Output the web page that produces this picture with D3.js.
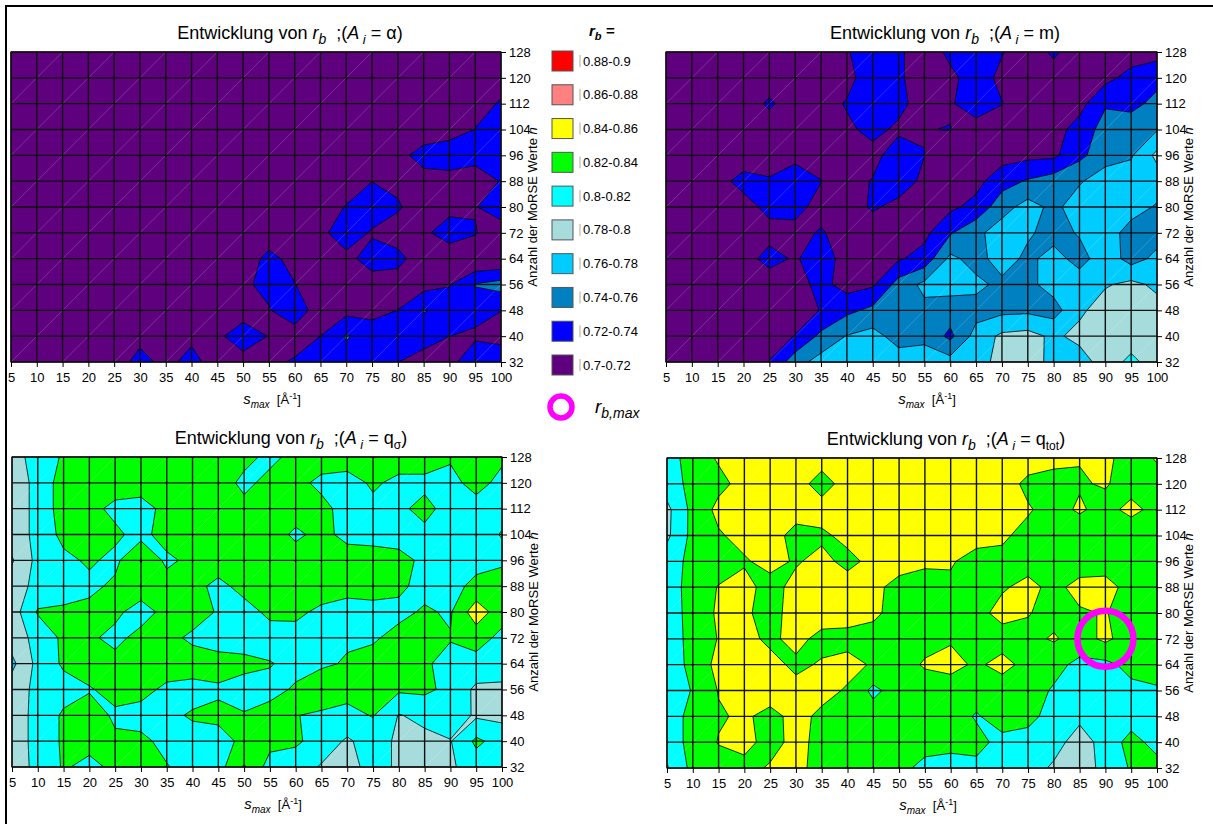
<!DOCTYPE html>
<html>
<head>
<meta charset="utf-8">
<script src="https://cdn.jsdelivr.net/npm/d3@7"></script>
<style>
  body { margin: 0; background: #fff; }
  svg { display: block; font-family: "Liberation Sans", Arial, sans-serif; }
</style>
</head>
<body>
<svg id="chart" width="1213" height="824"></svg>
<script>
// sampling grid of every surface
const smax = [5, 10, 15, 20, 25, 30, 35, 40, 45, 50, 55, 60, 65, 70, 75, 80, 85, 90, 95, 100];
const nvals = [32, 40, 48, 56, 64, 72, 80, 88, 96, 104, 112, 120, 128];

const thresholds = [0.70, 0.72, 0.74, 0.76, 0.78, 0.80, 0.82, 0.84, 0.86, 0.88];
const bandLabels = ['0.7-0.72', '0.72-0.74', '0.74-0.76', '0.76-0.78', '0.78-0.8',
                    '0.8-0.82', '0.82-0.84', '0.84-0.86', '0.86-0.88', '0.88-0.9'];
const bandColors = ['#5f007f', '#0000ff', '#0080c0', '#00ccff', '#a6dcdc',
                    '#00ffff', '#00ff00', '#ffff00', '#ff8080', '#ff0000'];

// r_b values, one row per n, from n = 128 (top) down to n = 32
const rbAlpha = [
  [.71,.71,.71,.71,.71,.71,.71,.71,.71,.71,.71,.71,.71,.71,.71,.71,.71,.71,.71,.71],
  [.71,.71,.71,.71,.71,.71,.71,.71,.71,.71,.71,.71,.71,.71,.71,.71,.71,.71,.71,.712],
  [.71,.71,.71,.71,.71,.71,.71,.71,.71,.71,.71,.71,.71,.71,.71,.71,.71,.71,.712,.722],
  [.71,.71,.71,.71,.71,.71,.71,.71,.71,.71,.71,.71,.71,.71,.71,.71,.705,.705,.7205,.73],
  [.71,.71,.71,.71,.71,.71,.71,.71,.71,.71,.71,.71,.71,.71,.71,.712,.73,.741,.73,.726],
  [.71,.71,.71,.71,.71,.71,.71,.71,.71,.71,.71,.71,.71,.71,.7195,.716,.71,.705,.705,.7215],
  [.71,.71,.71,.71,.71,.71,.71,.71,.71,.71,.71,.71,.71,.721,.741,.722,.71,.714,.718,.74],
  [.71,.71,.71,.71,.71,.71,.71,.71,.71,.71,.71,.71,.711,.741,.716,.712,.716,.73,.722,.70],
  [.71,.71,.71,.71,.71,.71,.71,.71,.71,.71,.725,.7144,.71,.71,.735,.725,.71,.7056,.70,.70],
  [.71,.71,.71,.71,.71,.71,.71,.71,.71,.715,.728,.7205,.71,.719,.704,.712,.712,.719,.741,.748],
  [.71,.71,.71,.71,.71,.71,.71,.71,.71,.714,.718,.741,.7015,.714,.714,.7202,.742,.73,.73,.7202],
  [.71,.71,.71,.71,.71,.7135,.7202,.715,.7174,.727,.7195,.703,.7202,.742,.73,.73,.725,.7202,.715,.715],
  [.71,.71,.71,.71,.708,.728,.713,.728,.708,.715,.712,.724,.732,.732,.725,.7202,.715,.71,.742,.73]
];

const rbMass = [
  [.71,.71,.71,.71,.71,.71,.71,.718,.735,.723,.71,.724,.735,.721,.71,.723,.71,.71,.71,.712],
  [.71,.71,.71,.71,.71,.71,.71,.712,.735,.723,.71,.716,.728,.716,.71,.712,.71,.714,.727,.735],
  [.71,.71,.71,.71,.723,.71,.71,.722,.732,.726,.71,.718,.73,.7205,.71,.71,.713,.738,.735,.745],
  [.71,.71,.71,.71,.71,.71,.71,.716,.726,.716,.7195,.7205,.712,.71,.71,.712,.728,.748,.75,.759],
  [.71,.71,.71,.71,.71,.714,.712,.71,.713,.732,.7202,.71,.71,.712,.715,.716,.735,.752,.758,.785],
  [.71,.71,.714,.726,.722,.732,.7205,.712,.7212,.729,.716,.71,.714,.732,.742,.75,.758,.77,.77,.77],
  [.71,.712,.7205,.713,.725,.727,.712,.712,.7222,.715,.713,.716,.726,.752,.768,.755,.77,.772,.768,.758],
  [.71,.71,.71,.712,.714,.713,.7222,.71,.71,.712,.715,.738,.755,.77,.763,.752,.762,.77,.752,.752],
  [.71,.71,.71,.713,.726,.718,.73,.712,.714,.718,.727,.765,.752,.77,.755,.768,.752,.772,.752,.765],
  [.71,.71,.71,.71,.71,.712,.726,.712,.717,.748,.765,.768,.765,.755,.755,.768,.772,.778,.785,.776],
  [.71,.71,.71,.71,.71,.714,.7205,.735,.745,.752,.755,.75,.752,.755,.756,.752,.776,.79,.792,.787],
  [.71,.71,.71,.71,.713,.7205,.745,.761,.767,.752,.755,.735,.768,.784,.787,.776,.786,.79,.79,.789],
  [.71,.71,.71,.71,.7205,.752,.768,.772,.772,.77,.77,.768,.774,.785,.788,.775,.77,.79,.805,.79]
];

const rbQsigma = [
  [.79,.81,.822,.83,.83,.83,.83,.83,.83,.826,.815,.826,.83,.83,.83,.83,.83,.822,.83,.823],
  [.79,.805,.83,.83,.83,.83,.83,.83,.83,.815,.826,.826,.815,.812,.823,.815,.815,.815,.826,.815],
  [.79,.805,.83,.826,.815,.812,.826,.83,.83,.826,.823,.83,.826,.812,.815,.816,.826,.812,.813,.815],
  [.79,.805,.826,.83,.824,.813,.83,.83,.83,.823,.83,.816,.826,.814,.812,.812,.815,.81,.813,.821],
  [.778,.806,.815,.823,.815,.841,.815,.826,.83,.83,.83,.83,.83,.83,.83,.826,.816,.812,.815,.815],
  [.79,.806,.812,.815,.824,.83,.83,.826,.815,.826,.83,.83,.83,.826,.826,.823,.815,.815,.824,.834],
  [.79,.822,.823,.826,.824,.812,.826,.83,.818,.813,.824,.824,.816,.813,.815,.816,.822,.818,.852,.828],
  [.79,.806,.824,.823,.815,.826,.826,.816,.813,.813,.812,.813,.815,.816,.818,.825,.826,.821,.828,.815],
  [.775,.806,.823,.826,.826,.83,.83,.83,.826,.824,.821,.815,.815,.823,.826,.824,.822,.815,.813,.812],
  [.79,.805,.812,.819,.824,.826,.816,.813,.818,.814,.815,.822,.841,.826,.826,.823,.824,.815,.796,.795],
  [.79,.806,.823,.826,.818,.813,.816,.822,.823,.821,.826,.821,.815,.815,.821,.799,.805,.812,.797,.795],
  [.79,.806,.823,.826,.822,.824,.815,.813,.815,.823,.826,.823,.812,.797,.81,.796,.795,.799,.824,.812],
  [.79,.805,.822,.815,.824,.826,.821,.813,.812,.842,.812,.81,.798,.795,.805,.798,.796,.797,.81,.812]
];

const rbQtot = [
  [.81,.83,.842,.85,.846,.85,.85,.85,.85,.85,.85,.85,.85,.843,.85,.846,.841,.845,.83,.842],
  [.81,.826,.835,.846,.85,.85,.83,.85,.85,.85,.85,.85,.845,.85,.835,.832,.838,.842,.83,.832],
  [.795,.826,.845,.85,.85,.85,.85,.85,.85,.85,.85,.85,.85,.85,.842,.832,.843,.832,.847,.832],
  [.796,.826,.838,.846,.85,.832,.836,.846,.85,.85,.85,.85,.848,.843,.834,.835,.825,.83,.823,.83],
  [.81,.826,.83,.838,.846,.838,.846,.834,.846,.85,.846,.842,.832,.835,.833,.832,.83,.832,.823,.83],
  [.81,.828,.841,.846,.833,.846,.85,.85,.846,.832,.825,.836,.836,.838,.845,.835,.846,.846,.834,.83],
  [.81,.827,.843,.843,.833,.848,.85,.848,.843,.834,.834,.832,.834,.846,.841,.834,.838,.841,.832,.83],
  [.81,.826,.841,.846,.836,.846,.834,.834,.834,.836,.834,.838,.833,.832,.835,.842,.832,.844,.83,.822],
  [.808,.826,.846,.85,.846,.836,.842,.846,.838,.832,.842,.846,.837,.846,.834,.826,.815,.815,.826,.828],
  [.81,.821,.841,.848,.85,.846,.846,.838,.815,.83,.83,.83,.83,.83,.828,.818,.813,.815,.815,.818],
  [.81,.826,.838,.843,.834,.846,.836,.83,.83,.83,.83,.83,.818,.83,.826,.812,.806,.815,.812,.812],
  [.81,.826,.841,.846,.833,.846,.834,.83,.83,.83,.828,.826,.826,.814,.812,.81,.788,.81,.826,.814],
  [.798,.826,.832,.834,.842,.846,.832,.83,.83,.826,.814,.812,.815,.812,.812,.796,.79,.806,.822,.826]
];

// best combination, marked with the magenta ring
const rbMax = {s: 90, n: 72};

const svg = d3.select('#chart');

// writes a list of text pieces, with italics and sub/superscripts
function richText(text, parts, size) {
    let shift = 0;
    parts.forEach(function(p) {
        const target = p.sub ? size * 0.28 : p.sup ? -size * 0.4 : 0;
        text.append('tspan')
            .attr('dy', target - shift)
            .attr('font-size', p.size || (p.sub || p.sup ? Math.round(size * 0.72) : size))
            .attr('font-style', p.i ? 'italic' : null)
            .attr('font-weight', p.b ? 'bold' : null)
            .text(p.t);
        shift = target;
    });
}

function panel(cfg) {
    const x = d3.scaleLinear().domain([smax[0], smax[smax.length - 1]]).range([cfg.x0, cfg.x1]);
    const y = d3.scaleLinear().domain([nvals[0], nvals[nvals.length - 1]]).range([cfg.y1, cfg.y0]);
    const g = svg.append('g');

    g.append('clipPath').attr('id', 'clip-' + cfg.key)
        .append('rect')
        .attr('x', cfg.x0).attr('y', cfg.y0)
        .attr('width', cfg.x1 - cfg.x0).attr('height', cfg.y1 - cfg.y0);

    // d3.contours wants row 0 = smallest n
    const flat = [];
    cfg.rows.slice().reverse().forEach(function(r) { flat.push.apply(flat, r); });

    const ds = smax[1] - smax[0], dn = nvals[1] - nvals[0];
    const path = d3.geoPath(d3.geoTransform({
        point: function(px, py) {
            this.stream.point(x(smax[0] + (px - 0.5) * ds), y(nvals[0] + (py - 0.5) * dn));
        }
    }));

    const bands = d3.contours()
        .size([smax.length, nvals.length])
        .thresholds(thresholds)(flat);

    const plot = g.append('g').attr('clip-path', 'url(#clip-' + cfg.key + ')');
    plot.selectAll('path.band')
        .data(bands)
        .join('path')
        .attr('class', 'band')
        .attr('d', path)
        .attr('fill', function(d, i) { return bandColors[i]; })
        .attr('fill-rule', 'evenodd')
        .attr('stroke', '#000')
        .attr('stroke-width', 0.8)
        .attr('stroke-linejoin', 'round');

    // faint triangle seams of the surface cells (every second diagonal shows)
    const cells = [];
    for (let i = 0; i < smax.length - 1; i++)
        for (let j = 0; j < nvals.length - 1; j++)
            if ((i - j) % 2 === 0) cells.push([i, j]);
    plot.selectAll('line.seam')
        .data(cells)
        .join('line')
        .attr('class', 'seam')
        .attr('x1', function(d) { return x(smax[d[0]]); })
        .attr('y1', function(d) { return y(nvals[d[1]]); })
        .attr('x2', function(d) { return x(smax[d[0] + 1]); })
        .attr('y2', function(d) { return y(nvals[d[1] + 1]); })
        .attr('stroke', '#fff')
        .attr('stroke-opacity', 0.3)
        .attr('stroke-width', 0.6);

    // grid
    g.selectAll('line.gx').data(smax).join('line')
        .attr('x1', d => x(d)).attr('x2', d => x(d))
        .attr('y1', cfg.y0).attr('y2', cfg.y1)
        .attr('stroke', '#111').attr('stroke-width', 1.4);
    g.selectAll('line.gy').data(nvals).join('line')
        .attr('y1', d => y(d)).attr('y2', d => y(d))
        .attr('x1', cfg.x0).attr('x2', cfg.x1)
        .attr('stroke', '#111').attr('stroke-width', 1.4);
    g.append('rect')
        .attr('x', cfg.x0).attr('y', cfg.y0)
        .attr('width', cfg.x1 - cfg.x0).attr('height', cfg.y1 - cfg.y0)
        .attr('fill', 'none').attr('stroke', '#111').attr('stroke-width', 1.2);

    // axes
    g.append('g')
        .attr('transform', 'translate(0,' + cfg.y1 + ')')
        .call(d3.axisBottom(x).tickValues(smax).tickSize(5).tickPadding(6).tickFormat(d3.format('d')))
        .attr('font-size', 13).attr('font-family', null)
        .call(a => a.select('.domain').remove());
    g.append('g')
        .attr('transform', 'translate(' + cfg.x1 + ',0)')
        .call(d3.axisRight(y).tickValues(nvals).tickSize(5).tickPadding(3).tickFormat(d3.format('d')))
        .attr('font-size', 13).attr('font-family', null)
        .call(a => a.select('.domain').remove());

    // titles
    const title = g.append('text')
        .attr('x', cfg.x0 + 279).attr('y', cfg.y0 - 13)
        .attr('text-anchor', 'middle')
        .style('white-space', 'pre');
    richText(title, [
        {t: 'Entwicklung von '}, {t: 'r', i: 1}, {t: 'b', i: 1, sub: 1, size: 14},
        {t: '  ;('}, {t: 'A', i: 1}, {t: ' i', i: 1, sub: 1, size: 13}, {t: ' = '}
    ].concat(cfg.subject, [{t: ')'}]), 18);

    const xt = g.append('text')
        .attr('x', cfg.x0 + 261).attr('y', cfg.y1 + 42)
        .attr('text-anchor', 'middle')
        .style('white-space', 'pre');
    richText(xt, [{t: 's', i: 1, size: 15}, {t: 'max', i: 1, sub: 1, size: 10},
                  {t: '  [Å'}, {t: '-1', sup: 1, size: 9}, {t: ']'}], 13);

    const yt = g.append('text')
        .attr('transform', 'translate(' + (cfg.x1 + 36) + ',' + ((cfg.y0 + cfg.y1) / 2) + ') rotate(-90)')
        .attr('text-anchor', 'middle')
        .attr('dy', '0.35em')
        .style('white-space', 'pre');
    richText(yt, [{t: 'Anzahl der MoRSE Werte '}, {t: 'n', i: 1}], 13);

    return {x: x, y: y};
}

const panels = [
    {key: 'alpha', rows: rbAlpha, x0: 11, x1: 501, y0: 52, y1: 362, subject: [{t: 'α'}]},
    {key: 'm', rows: rbMass, x0: 666, x1: 1157, y0: 52, y1: 362, subject: [{t: 'm'}]},
    {key: 'qs', rows: rbQsigma, x0: 12, x1: 502, y0: 457, y1: 767,
     subject: [{t: 'q'}, {t: 'σ', sub: 1, size: 12}]},
    {key: 'qt', rows: rbQtot, x0: 667, x1: 1157, y0: 458, y1: 768,
     subject: [{t: 'q'}, {t: 'tot', sub: 1, size: 12}]}
];

const scales = panels.map(panel);

// ring on the q_tot surface
const qt = scales[3];
svg.append('circle')
    .attr('cx', qt.x(rbMax.s)).attr('cy', qt.y(rbMax.n))
    .attr('r', 28)
    .attr('fill', 'none').attr('stroke', '#ff00ff').attr('stroke-width', 6.5);

// legend, highest band on top
const legend = svg.append('g');
const lt = legend.append('text').attr('x', 589).attr('y', 36).style('white-space', 'pre');
richText(lt, [{t: 'r', i: 1, b: 1}, {t: 'b', i: 1, b: 1, sub: 1}, {t: ' =', b: 1, i: 1}], 15);

const order = d3.range(bandLabels.length).reverse();
const ly = d3.scalePoint().domain(order).range([61, 365]);
const item = legend.selectAll('g.item').data(order).join('g')
    .attr('class', 'item')
    .attr('transform', d => 'translate(0,' + ly(d) + ')');
item.append('rect')
    .attr('x', 552).attr('y', -10).attr('width', 21).attr('height', 20)
    .attr('fill', d => bandColors[d]).attr('stroke', '#555').attr('stroke-width', 1);
item.append('line')
    .attr('x1', 580).attr('x2', 580).attr('y1', -6).attr('y2', 6)
    .attr('stroke', '#aaa').attr('stroke-width', 1);
item.append('text')
    .attr('x', 583).attr('dy', '0.35em').attr('font-size', 13)
    .text(d => bandLabels[d]);

legend.append('circle')
    .attr('cx', 561).attr('cy', 407).attr('r', 11)
    .attr('fill', 'none').attr('stroke', '#ff00ff').attr('stroke-width', 5.5);
const lm = legend.append('text').attr('x', 595).attr('y', 413);
richText(lm, [{t: 'r', i: 1, size: 19}, {t: 'b,max', i: 1, sub: 1, size: 14}], 19);

// frame of the figure
svg.append('path')
    .attr('d', 'M6,824V6H1213')
    .attr('fill', 'none').attr('stroke', '#000').attr('stroke-width', 2);
</script>
</body>
</html>
